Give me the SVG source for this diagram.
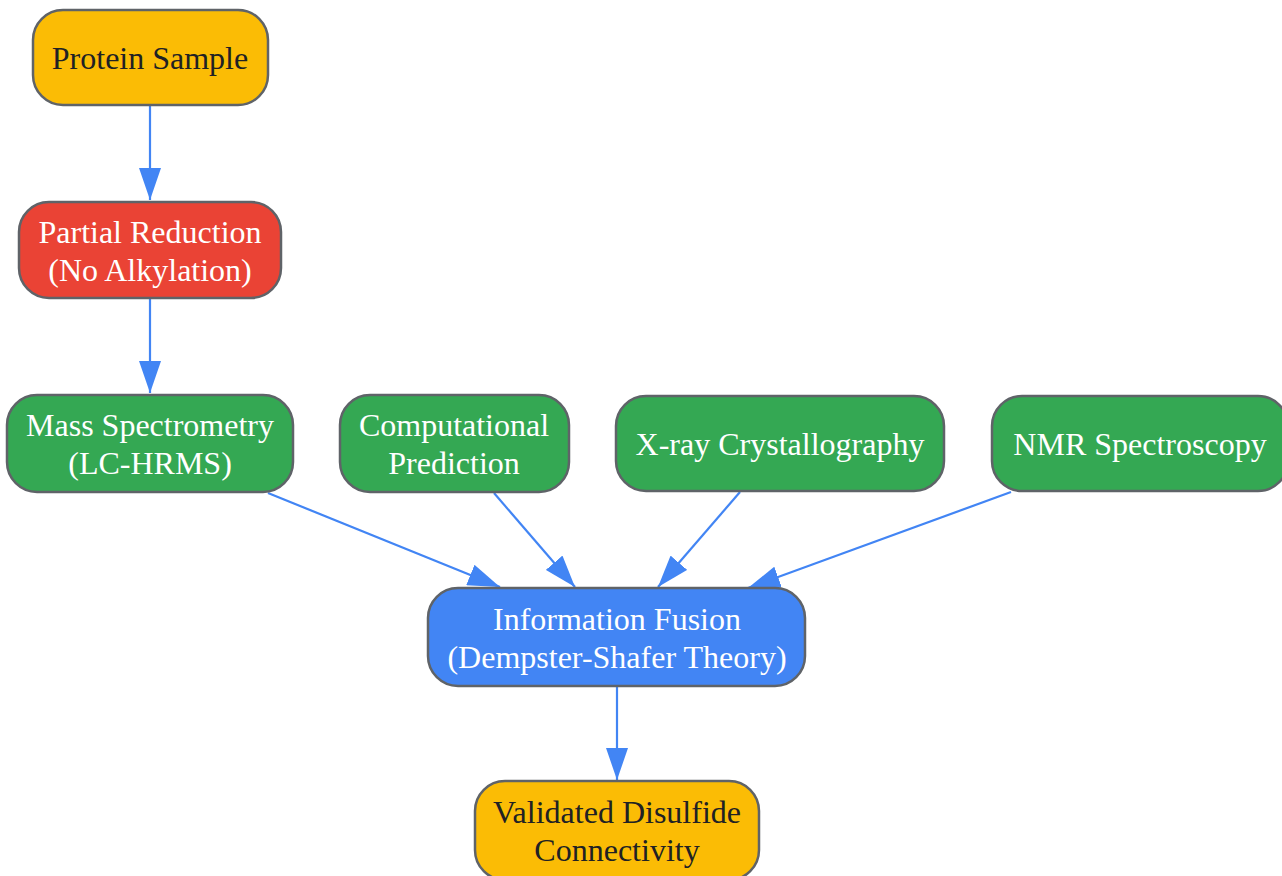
<svg xmlns="http://www.w3.org/2000/svg" width="1282" height="876" viewBox="0 0 1282 876">
<defs>
<marker id="ah" markerUnits="userSpaceOnUse" markerWidth="32" markerHeight="22" refX="32" refY="11" orient="auto">
<path d="M0,0 L32,11 L0,22 z" fill="#4285F4"/>
</marker>
<style>
.box{stroke:#5f6368;stroke-width:2.5}
.yellow{fill:#FBBC05}
.red{fill:#EA4335}
.green{fill:#34A853}
.blue{fill:#4285F4}
text{font-family:"Liberation Serif","Times New Roman",serif;font-size:32px;text-anchor:middle}
.dark{fill:#202124}
.light{fill:#ffffff}
.edge{stroke:#4285F4;stroke-width:2.2;fill:none;marker-end:url(#ah)}
</style>
</defs>
<rect width="1282" height="876" fill="#ffffff"/>
<g id="edges">
<line class="edge" x1="150" y1="106" x2="150" y2="200"/>
<line class="edge" x1="150" y1="299" x2="150" y2="393"/>
<line class="edge" x1="268" y1="493" x2="500" y2="587"/>
<line class="edge" x1="494" y1="493" x2="575" y2="587"/>
<line class="edge" x1="740" y1="492" x2="658" y2="587"/>
<line class="edge" x1="1011" y1="492" x2="748" y2="588"/>
<line class="edge" x1="617" y1="687" x2="617" y2="780"/>
</g>
<g id="protein">
<rect class="box yellow" x="33" y="10" width="235" height="95" rx="30"/>
<text class="dark" x="150" y="69">Protein Sample</text>
</g>
<g id="reduction">
<rect class="box red" x="19" y="202" width="262" height="96" rx="30"/>
<text class="light" x="150" y="243">Partial Reduction</text>
<text class="light" x="150" y="281">(No Alkylation)</text>
</g>
<g id="ms">
<rect class="box green" x="7" y="395" width="286" height="97" rx="30"/>
<text class="light" x="150" y="436">Mass Spectrometry</text>
<text class="light" x="150" y="474">(LC-HRMS)</text>
</g>
<g id="comp">
<rect class="box green" x="340" y="395" width="229" height="97" rx="30"/>
<text class="light" x="454" y="436">Computational</text>
<text class="light" x="454" y="474">Prediction</text>
</g>
<g id="xray">
<rect class="box green" x="616" y="396" width="328" height="95" rx="30"/>
<text class="light" x="780" y="455">X-ray Crystallography</text>
</g>
<g id="nmr">
<rect class="box green" x="992" y="396" width="296" height="95" rx="30"/>
<text class="light" x="1140" y="455">NMR Spectroscopy</text>
</g>
<g id="fusion">
<rect class="box blue" x="428" y="588" width="377" height="98" rx="30"/>
<text class="light" x="617" y="630">Information Fusion</text>
<text class="light" x="617" y="668">(Dempster-Shafer Theory)</text>
</g>
<g id="validated">
<rect class="box yellow" x="475" y="781" width="284" height="99" rx="30"/>
<text class="dark" x="617" y="823">Validated Disulfide</text>
<text class="dark" x="617" y="861">Connectivity</text>
</g>
</svg>
